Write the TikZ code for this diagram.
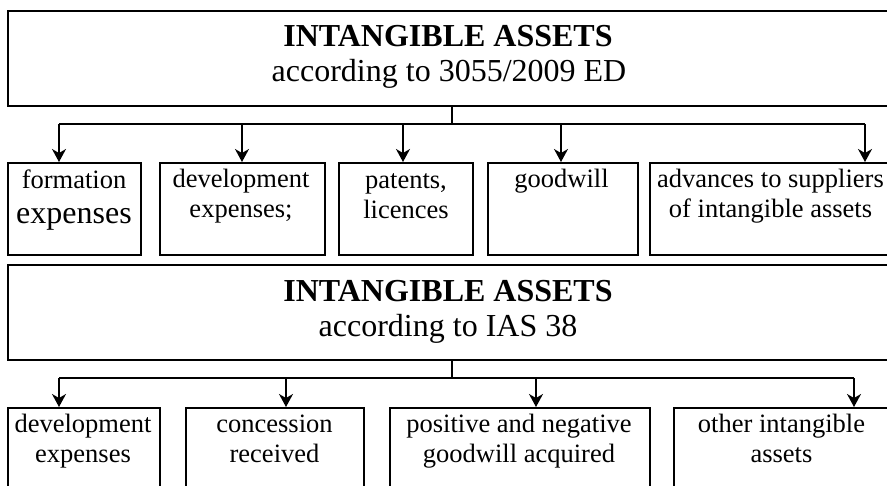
\documentclass[tikz,border=0pt]{standalone}
\usepackage{fontspec}
\setmainfont{Liberation Serif}
\usetikzlibrary{arrows.meta}
\begin{document}
\begin{tikzpicture}[x=1pt,y=-1pt,
  box/.style={draw, line width=1.6pt, inner sep=0pt, anchor=north west},
  conn/.style={line width=1.4pt},
  arr/.style={conn, -{Stealth[length=13pt,width=14pt,inset=4pt]}},
  sm/.style={font=\fontsize{26.5pt}{30pt}\selectfont, anchor=base, inner sep=0pt},
  big/.style={font=\fontsize{32pt}{36pt}\selectfont, anchor=base, inner sep=0pt},
  hd/.style={font=\fontsize{32pt}{36pt}\selectfont\bfseries, anchor=base, inner sep=0pt}]
\clip (0,0) rectangle (887,486);
\fill[white] (0,0) rectangle (887,486);

% top heading box
\node[box, minimum width=893pt, minimum height=94.5pt] (t) at (7,10.5) {};
\node[hd] (th1) at (448,47) {INTANGIBLE ASSETS};
\node[big] (th2) at (449,82) {according to 3055/2009 ED};

% first row of boxes
\node[box, minimum width=133pt, minimum height=92pt] (b1) at (7,162) {};
\node[box, minimum width=165pt, minimum height=92pt] (b2) at (159,162) {};
\node[box, minimum width=134pt, minimum height=92pt] (b3) at (338,162) {};
\node[box, minimum width=150pt, minimum height=92pt] (b4) at (487,162) {};
\node[box, minimum width=251pt, minimum height=92pt] (b5) at (649,162) {};

\node[sm] (b1a) at (74,189) {formation};
\node[big] (b1b) at (74,224) {expenses};
\node[sm] (b2a) at (241,188) {development};
\node[sm] (b2b) at (241,218) {expenses;};
\node[sm] (b3a) at (406,189) {patents,};
\node[sm] (b3b) at (406,219) {licences};
\node[sm] (b4a) at (561.5,188) {goodwill};
\node[sm] (b5a) at (770.5,188) {advances to suppliers};
\node[sm] (b5b) at (770.5,218) {of intangible assets};

% connectors row 1
\coordinate (j1) at (452,124);
\coordinate (a1) at (59,124);
\coordinate (a2) at (242,124);
\coordinate (a3) at (403,124);
\coordinate (a4) at (561,124);
\coordinate (a5) at (865,124);
\draw[conn] (t.south -| j1) -- (j1);
\draw[conn] (a1) -- (a5);
\draw[arr] (a1) -- (a1 |- b1.north);
\draw[arr] (a2) -- (a2 |- b2.north);
\draw[arr] (a3) -- (a3 |- b3.north);
\draw[arr] (a4) -- (a4 |- b4.north);
\draw[arr] (a5) -- (a5 |- b5.north);

% second heading box
\node[box, minimum width=893pt, minimum height=95pt] (s) at (7,264) {};
\node[hd] (sh1) at (448,302) {INTANGIBLE ASSETS};
\node[big] (sh2) at (448,337) {according to IAS 38};

% second row of boxes
\node[box, minimum width=152pt, minimum height=93pt] (c1) at (7,407) {};
\node[box, minimum width=178pt, minimum height=93pt] (c2) at (185,407) {};
\node[box, minimum width=260pt, minimum height=93pt] (c3) at (389,407) {};
\node[box, minimum width=227pt, minimum height=93pt] (c4) at (673,407) {};

\node[sm] (c1a) at (83,432) {development};
\node[sm] (c1b) at (83,463) {expenses};
\node[sm] (c2a) at (274.5,432) {concession};
\node[sm] (c2b) at (274.5,463) {received};
\node[sm] (c3a) at (519,432) {positive and negative};
\node[sm] (c3b) at (519,463) {goodwill acquired};
\node[sm] (c4a) at (781.5,432) {other intangible};
\node[sm] (c4b) at (781.5,463) {assets};

% connectors row 2
\coordinate (k1) at (452,378);
\coordinate (d1) at (59,378);
\coordinate (d2) at (286,378);
\coordinate (d3) at (536,378);
\coordinate (d4) at (854,378);
\draw[conn] (s.south -| k1) -- (k1);
\draw[conn] (d1) -- (d4);
\draw[arr] (d1) -- (d1 |- c1.north);
\draw[arr] (d2) -- (d2 |- c2.north);
\draw[arr] (d3) -- (d3 |- c3.north);
\draw[arr] (d4) -- (d4 |- c4.north);
\end{tikzpicture}
\end{document}
